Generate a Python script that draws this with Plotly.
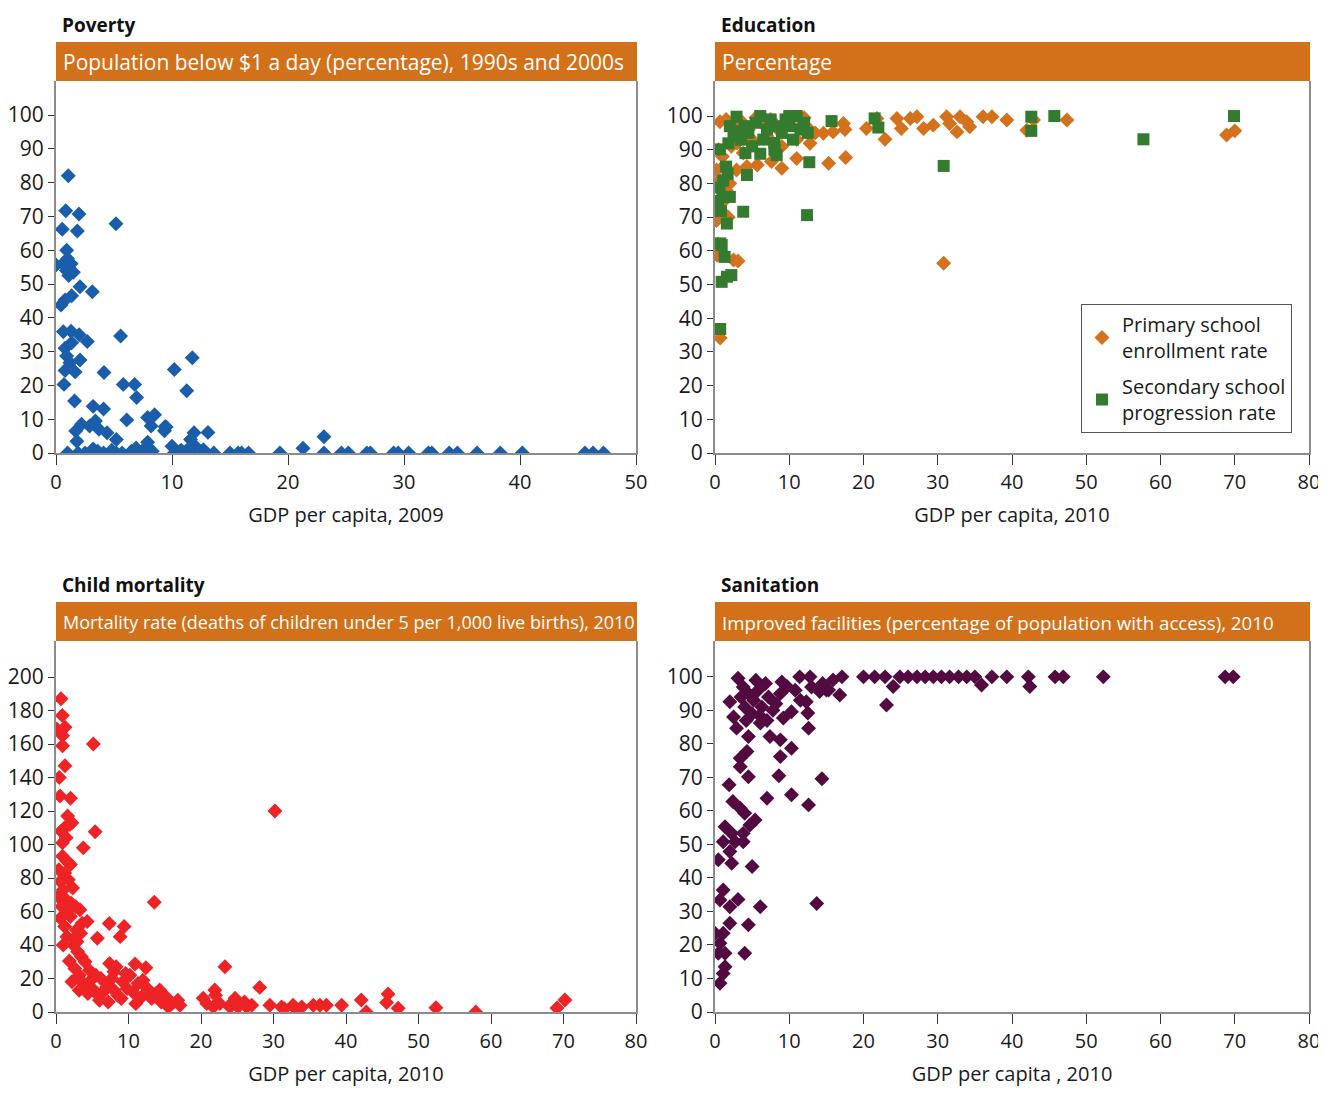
import plotly.graph_objects as go

PAGE_W, PAGE_H = 1326, 1096
OFF = 8  # default body margin of the page
W, H = PAGE_W - OFF, PAGE_H - 2 * OFF
FONT = "Open Sans"

# ---------------- DATA ----------------
pov_x = [1.06,0.84,1.98,0.54,1.84,5.17,0.92,0.0,0.6,1.0,1.3,0.9,1.5,1.1,2.07,3.13,1.35,0.78,0.43,0.63,
         1.3,2.0,5.57,2.7,1.35,0.78,0.92,2.07,1.2,0.78,1.65,4.14,0.69,5.8,6.78,6.95,10.2,11.75,11.27,1.6,
         3.2,4.1,6.1,7.9,8.5,1.7,2.2,2.9,3.4,3.7,4.4,8.2,9.5,9.35,11.9,13.1,5.2,1.8,7.9,11.6,9.4,
         1.0,1.9,2.5,3.2,4.1,4.8,5.2,5.7,7.2,7.5,8.0,8.3,10.0,10.2,10.8,11.5,12.0,12.8,13.6,15.0,15.7,
         10.7,11.55,11.7,12.7,16.0,16.6,19.3,21.3,23.1,23.1,24.6,25.2,26.8,27.1,29.1,29.5,30.4,32.1,32.4,
         33.9,34.6,36.3,38.3,40.2,45.6,46.3,47.2,6.5,3.6,6.9]
pov_y = [82,71.7,70.7,66.2,65.7,67.8,60,55.6,56,57.5,56,54,53.5,52.5,49.2,47.7,46.5,45.3,43.8,35.9,
         36,35,34.6,33,32.6,31,28.7,27.5,26.7,24.4,24,23.8,20.3,20.3,20.3,16.4,24.7,28.2,18.4,15.4,
         13.8,13,9.8,10.5,11.3,6.5,8.5,8,9.5,7,6,8,7.7,6.6,6,6.1,4,3.5,3.2,4,7.8,
         0,0,0,1.2,0,0.8,0,0,0,0.8,1.5,0.5,2,0,0.8,0,2,0,0,0,0,
         0.5,1.7,0,1,0,0,0,1.4,4.8,0,0,0,0,0,0,0,0,0,0,
         0,0,0,0,0,0,0,0,0.5,0.5,1.5]

edu_prim_x = [0.67,1.5,2.5,3.5,4.5,5.5,6.5,7.5,8.5,9.5,10.5,11.5,12,12.5,3,5,7,9,11,13.5,
              14.6,15.9,17.3,17.5,20.4,21.8,22.9,24.5,25.1,26.3,27.2,28.1,29.4,31.2,31.6,32.6,33,33.9,34.3,36.1,
              37.3,39.3,42,42.9,47.4,68.9,70,12.8,11,9,15.3,17.6,7.6,5.7,4.3,2.9,1.1,0.2,1.5,1.3,
              0.2,30.8,3.1,0.7,0.3,2.5,0.5,1.0,2.0,0.8,1.8,0.4,0.6,2.2,3.8]
edu_prim_y = [98.3,99,97,98.5,96,99.5,97.5,99,96,98,99.5,97,99.5,96.5,92,93,94,91,93,95,
              94.9,95.3,97.8,96,96.3,99.3,93.1,99.3,96.3,99.3,99.8,96.3,97.3,99.8,97.8,95.3,99.8,98.3,96.8,99.8,
              99.8,98.8,95.8,98.8,98.8,94.4,95.6,91.9,87.4,84.5,86,87.7,86.5,85.5,85,84,85,84,78,75,
              69,56.3,57,34.1,58.7,57.3,90,88,80,72,70,62,81,91,89]

edu_sec_x = [2.9,6.1,11,15.7,21.5,22,42.6,42.6,45.7,57.7,69.9,30.8,12.7,12.4,4.3,3.8,8.3,6.1,4.1,1.8,
             0.67,1.7,1.1,0.6,0.4,0.8,1.6,0.7,1.3,2.2,0.9,0.7,0.9,1.6,
             2,2.5,3.5,4,4.5,5,5.5,6.5,7,7.5,8,8.5,9,9.5,10,10.5,11.5,12,12.5,8,10,3,1.5,2,1]
edu_sec_y = [99.8,100,100,98.5,99.3,96.6,99.8,95.6,100,93.1,100,85.2,86.3,70.6,82.5,71.6,88.4,88.8,89,91.9,
             90.1,82.8,80.8,78.8,74.8,71.8,68.1,62.2,58.2,52.8,50.8,36.8,61.7,52.3,
             97,94,93,97,95,91,98,93,96,99,92,97,95,99,97,93,96,98,95,90,100,95.5,85,76,76]

mort_x = [0.69,0.87,0.1,1.24,0.9,0.9,5.15,1.24,0.46,0.55,2.0,5.4,3.77,13.56,30.2,
          1.6,1.9,1.2,0.7,1.4,0.9,2.2,
          0.9,1.5,0.4,1.2,2.0,0.6,1.7,1.0,2.3,0.3,1.4,0.8,2.1,2.7,1.5,0.6,2.0,3.3,1.2,2.8,
          3.6,4.3,7.35,9.4,8.85,5.7,1.84,10.9,12.4,7.4,8.0,8.3,7.7,
          2.4,3.0,3.5,4.0,2.6,3.2,4.6,2.2,3.8,4.8,5.5,6.2,5.0,3.2,6.5,5.8,4.4,7.0,8.5,9.2,9.8,10.2,10.6,11.3,
          11.8,12.6,13.2,13.8,14.5,15.2,16.0,16.8,17.1,14.3,15.5,12.0,9.0,7.2,6.0,8.0,9.6,11.0,
          1.5,2.5,1.0,3.4,2.9,
          23.3,28.1,21.9,20.3,24.7,21.7,22.6,24.0,25.1,26.3,27.0,29.5,31.1,32.7,33.9,35.5,36.4,37.3,39.4,
          42.1,42.8,45.8,45.6,47.2,52.4,57.9,69.1,70.2,22.0,20.8,31.5,33.0,26.0,24.4]
mort_y = [187,177,169,170,165,159,160,147,140,129,127.6,107.6,98,65.5,120,
          117,112,110,108,104,101,113,
          93,90,85,83,88,78,79,73,74,69,67,63,65,63,60,56,57,61,51,49,
          53,54,52.8,51,45,44,30.4,28.6,26.4,29,24,27,20,
          40,36,33,30,26,22,25,18,17,19,22,20,14,13,12,10,11,15,10,18,14,22,12,17,
          9,14,8,11,6,9,5,7,4,13.1,3,19,8,6,7,13,23,5,
          45,44,40,47,42,
          27,14.7,13.1,8.2,8.2,3,5,3,3,3,4,4,3,4,3,4,4,4,4,
          7.2,0,10.7,5.6,2.2,2.5,0,2.4,7.2,10,5,2,2,6,6]

san_x = [3.1,2.0,6.1,11.4,12.8,9.7,10.3,9.2,12.3,12.5,12.6,14.1,15.3,15.9,17.1,16.8,15.0,
         20.0,21.5,22.9,24.0,24.9,26.0,27.2,28.3,29.4,30.5,31.6,32.8,33.9,35.0,35.9,37.3,39.3,42.2,42.4,
         45.8,46.9,52.3,68.7,69.8,23.1,
         2.9,4.5,7.4,8.8,10.3,8.8,4.3,3.4,3.4,4.5,8.6,14.4,1.9,7.0,10.3,12.6,2.4,3.4,4.0,5.4,4.7,1.35,
         2.25,3.8,2.7,1.1,3.8,2.0,0.45,2.25,5.0,1.1,0.67,2.0,3.1,6.1,13.7,2.0,1.1,4.5,0,0.67,1.35,0.45,
         1.35,1.1,0.67,4.0,
         3.8,4.5,5.2,5.8,6.3,6.8,7.2,7.8,4.0,5.0,6.0,7.0,8.2,8.8,9.0,5.5,4.2,3.5,10.8,11.5,2.5,13.0,14.5]
san_y = [99.6,92.6,86.2,100,100,97.1,89.6,87.7,92.6,89.2,84.7,95.6,96.1,99.1,100,94.6,96.1,
         100,100,100,97.1,100,100,100,100,100,100,100,100,100,100,97.6,100,100,100,97.1,
         100,100,100,100,100,91.6,
         84.7,82.2,82.2,81.2,78.7,76.2,77.7,75.7,73.2,70.2,70.5,69.6,67.8,63.8,64.8,61.8,62.8,60.8,59.3,57.3,55.8,55.3,
         53.3,53.3,50.8,50.8,50.8,47.9,45.4,44.4,43.4,36.4,33.4,31.4,33.6,31.4,32.4,26.5,23.5,26,23.5,20.5,17.5,17.5,
         13.5,11.5,8.6,17.5,
         97,95,93,96,91,98,94,90,91,89,88.5,87,92,95,98.5,99,87,94,96,93,88,97,98]

pov_ticks_x = [0, 10, 20, 30, 40, 50]
pct_ticks = [0, 10, 20, 30, 40, 50, 60, 70, 80, 90, 100]
gdp_ticks = [0, 10, 20, 30, 40, 50, 60, 70, 80]
mort_ticks = [0, 20, 40, 60, 80, 100, 120, 140, 160, 180, 200]

# ---------------- LAYOUT HELPERS (page pixel -> paper) ----------------
def px_x(p):
    return (p - OFF) / W

def px_y(p):
    return 1 - (p - OFF) / H

panels = {
    1: dict(x0=56, x1=636, y0=81, y1=453, xr=[0, 50], yr=[0, 110.06], xt=pov_ticks_x, yt=pct_ticks,
            title="Poverty", header="Population below $1 a day (percentage), 1990s and 2000s",
            hsize=21, xtitle="GDP per capita, 2009", hy0=42),
    2: dict(x0=715, x1=1309, y0=81, y1=453, xr=[0, 80], yr=[0, 110.4], xt=gdp_ticks, yt=pct_ticks,
            title="Education", header="Percentage", hsize=21,
            xtitle="GDP per capita, 2010", hy0=42),
    3: dict(x0=56, x1=636, y0=641, y1=1012, xr=[0, 80], yr=[0, 221.5], xt=gdp_ticks, yt=mort_ticks,
            title="Child mortality",
            header="Mortality rate (deaths of children under 5 per 1,000 live births), 2010",
            hsize=18, xtitle="GDP per capita, 2010", hy0=602),
    4: dict(x0=715, x1=1309, y0=641, y1=1012, xr=[0, 80], yr=[0, 110.7], xt=gdp_ticks, yt=pct_ticks,
            title="Sanitation",
            header="Improved facilities (percentage of population with access), 2010",
            hsize=18.7, xtitle="GDP per capita , 2010", hy0=602),
}

fig = go.Figure()

def add(x, y, idx, color, symbol, size, name=None, legend=False, group=None):
    sfx = "" if idx == 1 else str(idx)
    fig.add_trace(go.Scatter(
        x=x, y=y, mode="markers", xaxis="x" + sfx, yaxis="y" + sfx,
        marker=dict(color=color, symbol=symbol, size=size, line=dict(width=0)),
        name=name, showlegend=legend, legendgroup=group, hoverinfo="x+y"))

add(pov_x, pov_y, 1, "#1A5DAB", "diamond", 11.5)
add(edu_prim_x, edu_prim_y, 2, "#D4711C", "diamond", 11.5,
    "Primary school<br>enrollment rate", True, "prim")
add(edu_sec_x, edu_sec_y, 2, "#347B2F", "square", 12,
    "Secondary school<br>progression rate", True, "sec")
add(mort_x, mort_y, 3, "#EE2326", "diamond", 11.5)
add(san_x, san_y, 4, "#520A40", "diamond", 11.5)

layout = dict(
    width=W, height=H, margin=dict(l=0, r=0, t=0, b=0, autoexpand=False),
    paper_bgcolor="white", plot_bgcolor="white",
    font=dict(family=FONT, size=19, color="#1a1a1a"),
    showlegend=True,
    legend=dict(x=px_x(1081), y=px_y(304), xanchor="left", yanchor="top",
                bordercolor="#555555", borderwidth=1, bgcolor="white",
                font=dict(family=FONT, size=20, color="#1a1a1a"),
                tracegroupgap=7, itemwidth=30),
)
shapes = []
annotations = []
AX = "#8C8C8C"
for i, p in panels.items():
    sfx = "" if i == 1 else str(i)
    layout["xaxis" + sfx] = dict(
        domain=[px_x(p["x0"]), px_x(p["x1"])], range=p["xr"], anchor="y" + sfx,
        tickvals=p["xt"], ticks="outside", ticklen=10, tickcolor="#333333", tickwidth=1,
        showline=True, linecolor=AX, linewidth=2, showgrid=False, zeroline=False,
        tickfont=dict(size=20), fixedrange=True, automargin=False, ticklabeloverflow="allow",
        title=dict(text=p["xtitle"], font=dict(size=20), standoff=14))
    layout["yaxis" + sfx] = dict(
        domain=[px_y(p["y1"]), px_y(p["y0"])], range=p["yr"], anchor="x" + sfx,
        tickvals=p["yt"], ticks="outside", ticklen=6, tickcolor="#333333", tickwidth=1,
        showline=True, linecolor=AX, linewidth=2, mirror=True, showgrid=False, zeroline=False,
        tickfont=dict(size=21), fixedrange=True, automargin=False, ticklabeloverflow="allow")
    # orange header bar
    shapes.append(dict(type="rect", xref="paper", yref="paper",
                       x0=px_x(p["x0"]), x1=px_x(p["x1"] + 1),
                       y0=px_y(p["hy0"] + 39), y1=px_y(p["hy0"]),
                       fillcolor="#D2711A", line=dict(width=0), layer="above"))
    annotations.append(dict(xref="paper", yref="paper", x=px_x(p["x0"] + 5),
                            y=px_y(p["hy0"] + 20), xanchor="left", yanchor="middle",
                            text=p["header"], showarrow=False,
                            font=dict(family=FONT, size=p["hsize"], color="white")))
    annotations.append(dict(xref="paper", yref="paper", x=px_x(p["x0"] + 4),
                            y=px_y(p["hy0"] - 17), xanchor="left", yanchor="middle",
                            text="<b>" + p["title"] + "</b>", showarrow=False,
                            font=dict(family=FONT, size=19, color="#111111")))

layout["shapes"] = shapes
layout["annotations"] = annotations
fig.update_layout(**layout)
fig.write_html("out.html")
